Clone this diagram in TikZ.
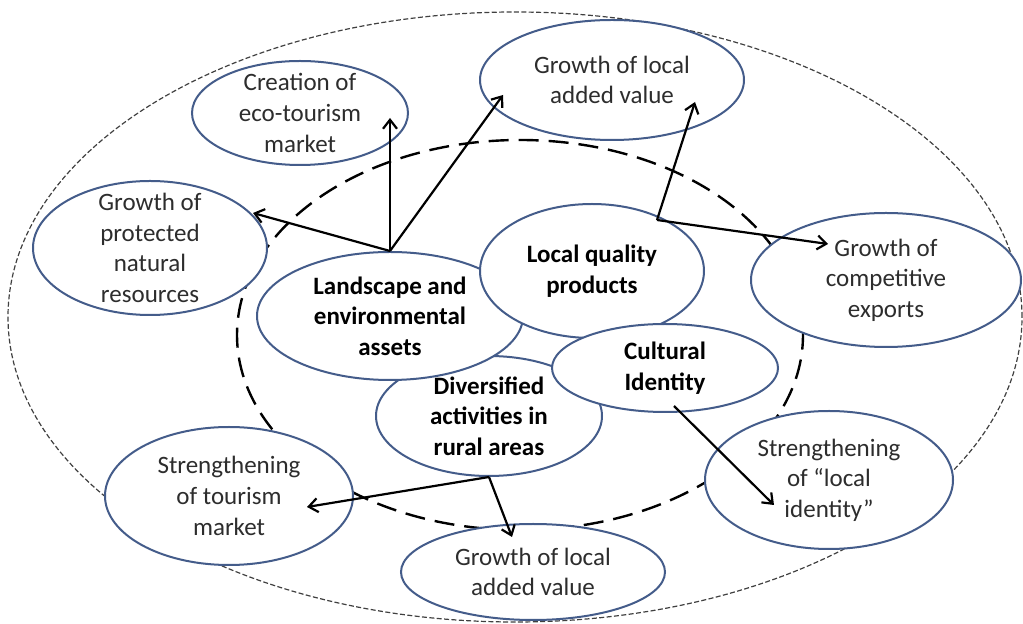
\documentclass[tikz,border=0pt]{standalone}
\usepackage{fontspec}
\setmainfont{Carlito}
\usetikzlibrary{shapes.geometric,arrows.meta}
\definecolor{ellblue}{RGB}{68,92,138}
\definecolor{textgray}{RGB}{45,45,45}

\begin{document}
\begin{tikzpicture}[x=0.5pt, y=-0.5pt]
        \useasboundingbox (0,0) rectangle (1023,624);
        \draw[black!75, line width=0.6pt, dash pattern=on 2.5pt off 1.2pt] (515,317) ellipse [x radius=253.5pt, y radius=152.5pt];
        \draw[black, line width=1.2pt, dash pattern=on 10pt off 5pt] (520,335) ellipse [x radius=141.5pt, y radius=97.5pt];
        \begin{scope}[every node/.style={ellipse, draw=ellblue, fill=white, line width=1pt, align=center, inner sep=-12pt, text=textgray, font=\fontsize{12.5}{15.3}\selectfont}]
            \node[minimum width=108pt, minimum height=52pt] (eco) at (300,113) {Creation of\\eco-tourism\\market};
            \node[minimum width=117pt, minimum height=67pt] (protected) at (150,248) {Growth of\\protected\\natural\\resources};
            \node[minimum width=132pt, minimum height=60pt] (addtop) at (612,80) {Growth of local\\added value};
            \node[minimum width=135pt, minimum height=67pt] (exports) at (886,280) {Growth of\\competitive\\exports};
            \node[minimum width=124pt, minimum height=69pt] (tourism) at (229,496) {Strengthening\\of tourism\\market};
            \node[minimum width=132pt, minimum height=48pt] (addbottom) at (533,572) {Growth of local\\added value};
            \node[minimum width=124pt, minimum height=69pt] (identity) at (829,480) {Strengthening\\of “local\\identity”};
        \end{scope}
        \begin{scope}[every node/.style={ellipse, draw=ellblue, fill=white, line width=1pt, align=center, inner sep=-12pt, text=black, font=\fontsize{12.5}{15.3}\selectfont\bfseries}]
            \node[minimum width=113pt, minimum height=60pt] (diversified) at (489,416) {Diversified\\activities in\\rural areas};
            \node[minimum width=133pt, minimum height=64pt] (landscape) at (390,316) {Landscape and\\environmental\\assets};
            \node[minimum width=112pt, minimum height=67pt] (lqp) at (592,271) {Local quality\\products};
            \node[minimum width=113pt, minimum height=44pt] (cultural) at (665,368) {Cultural\\Identity};
        \end{scope}
        \coordinate (ecotip) at ([shift={(90,5)}]eco.center);
        \coordinate (protip) at ([shift={(103,-35)}]protected.center);
        \coordinate (addtip) at ([shift={(-109,15)}]addtop.center);
        \coordinate (addtipb) at ([shift={(83,22)}]addtop.center);
        \coordinate (lqpout) at ([shift={(65,-51)}]lqp.center);
        \coordinate (exptip) at ([shift={(-58,-36)}]exports.center);
        \coordinate (culout) at ([shift={(9,38)}]cultural.center);
        \coordinate (idtip) at ([shift={(-55,25)}]identity.center);
        \coordinate (tourtip) at ([shift={(78,11)}]tourism.center);
        \coordinate (addbtip) at ([shift={(-21,-35)}]addbottom.center);
        \begin{scope}[every path/.style={black, line width=1.1pt, -{Straight Barb[length=4.5pt, width=7pt]}}]
            \path (landscape.north) edge (ecotip);
            \path (landscape.north) edge (protip);
            \path (landscape.north) edge (addtip);
            \path (lqpout) edge (addtipb);
            \path (lqpout) edge (exptip);
            \path (culout) edge (idtip);
            \path (diversified.south) edge (tourtip);
            \path (diversified.south) edge (addbtip);
        \end{scope}
\end{tikzpicture}
\end{document}
